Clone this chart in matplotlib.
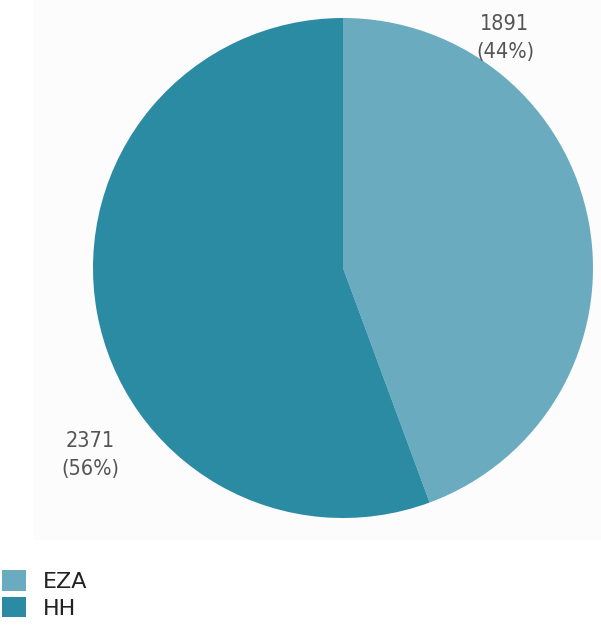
import matplotlib
matplotlib.use("Agg")
import matplotlib.pyplot as plt
from matplotlib.patches import Patch

categories = ["EZA", "HH"]
values = [1891, 2371]
colors = ["#6aabc0", "#2a8ba3"]

W, H = 601, 627
fig = plt.figure(figsize=(W / 100, H / 100), dpi=100)
fig.patch.set_facecolor("white")

# faint panel behind the pie
bg = fig.add_axes([33 / W, (H - 540) / H, 1 - 33 / W, 540 / H], zorder=-1)
bg.set_facecolor("#fcfcfc")
bg.set_xticks([])
bg.set_yticks([])
for s in bg.spines.values():
    s.set_visible(False)

cx, cy, r = 343, 268, 250
ax = fig.add_axes([(cx - r) / W, (H - cy - r) / H, 2 * r / W, 2 * r / H])
ax.pie(values, colors=colors, startangle=90, counterclock=False,
       wedgeprops=dict(linewidth=0))
ax.set_xlim(-1, 1)
ax.set_ylim(-1, 1)
ax.set_aspect("equal")
ax.axis("off")

total = sum(values)
label_pos = [(0.648, 0.92), (-1.012, -0.748)]
for v, (x, y) in zip(values, label_pos):
    ax.text(x, y, f"{v}\n({round(100 * v / total)}%)", ha="center", va="center",
            fontsize=15.5, color="#555555", linespacing=1.45, clip_on=False,
            fontstretch="condensed")

handles = [Patch(facecolor=c, edgecolor="none") for c in colors]
fig.legend(handles, categories, loc="upper left",
           bbox_to_anchor=(0.004, 1 - 570 / H), frameon=False,
           fontsize=16, labelcolor="#222222", handlelength=1.05,
           handleheight=1.05, handletextpad=0.75, labelspacing=0.22,
           borderaxespad=0, borderpad=0)

fig.savefig("out.png", dpi=100, facecolor="white")
